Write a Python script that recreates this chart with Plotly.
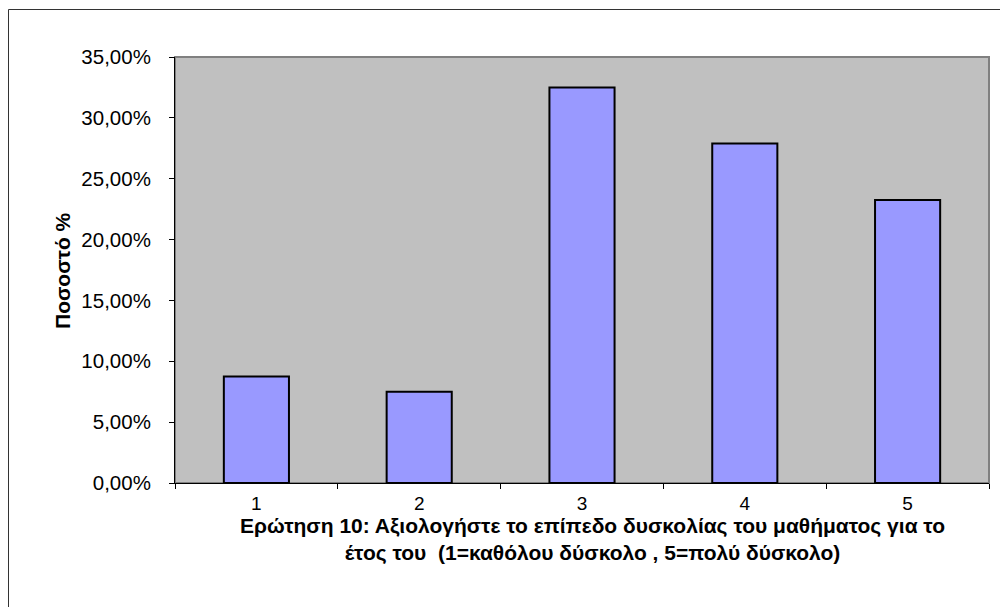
import plotly.graph_objects as go

categories = ["1", "2", "3", "4", "5"]
values = [0.0875, 0.0750, 0.3250, 0.2790, 0.2325]
y_title = "Ποσοστό %"
x_title = "Ερώτηση 10: Αξιολογήστε το επίπεδο δυσκολίας του μαθήματος για το<br>έτος του  (1=καθόλου δύσκολο , 5=πολύ δύσκολο)"

OFF = 8  # page body margin
W, H = 1008 - OFF, 607 - OFF
L, R, T, B = 175 - OFF, 989 - OFF, 57 - OFF, 483 - OFF
pw, ph = R - L, B - T

def px(x):
    return (x - OFF - L) / pw

def py(y):
    return (B - (y - OFF)) / ph

fig = go.Figure()
fig.add_trace(go.Bar(
    x=categories, y=values, width=0.4,
    marker=dict(color="#9999FF", line=dict(color="black", width=2)),
    hoverinfo="skip",
))

font = "Liberation Sans, Arial, sans-serif"
fig.update_layout(
    width=W, height=H,
    margin=dict(l=L, r=W - R, t=T, b=H - B, pad=0),
    paper_bgcolor="white", plot_bgcolor="#C0C0C0",
    separators=",.",
    showlegend=False,
    font=dict(family=font, size=20.5, color="black"),
    xaxis=dict(type="category", tickson="boundaries", ticks="outside", ticklen=5,
               tickcolor="black", showline=True, linecolor="black", linewidth=1,
               showgrid=False, zeroline=False, tickfont=dict(size=19),
               ticklabelstandoff=3),
    yaxis=dict(range=[0, 0.35], dtick=0.05, tickformat=".2%", ticks="outside",
               ticklen=5, tickcolor="black", showline=True, linecolor="black",
               linewidth=1, showgrid=False, zeroline=False,
               tickfont=dict(size=20.5), ticklabelstandoff=14),
    shapes=[
        dict(type="rect", xref="paper", yref="paper", x0=0, x1=1, y0=0, y1=1,
             line=dict(color="#808080", width=2), layer="below"),
        dict(type="rect", xref="paper", yref="paper",
             x0=px(8.5), x1=px(1015), y0=py(615), y1=py(9.5),
             line=dict(color="#333333", width=1)),
    ],
    annotations=[
        dict(text="<b>" + y_title + "</b>", xref="paper", yref="paper",
             x=px(62), y=0.5, textangle=-90, showarrow=False,
             font=dict(size=21), xanchor="center", yanchor="middle"),
        dict(text="<b>" + x_title + "</b>", xref="paper", yref="paper",
             x=px(592), y=py(539), showarrow=False, align="center",
             font=dict(size=21), xanchor="center", yanchor="middle"),
    ],
)

fig.write_html("out.html")
